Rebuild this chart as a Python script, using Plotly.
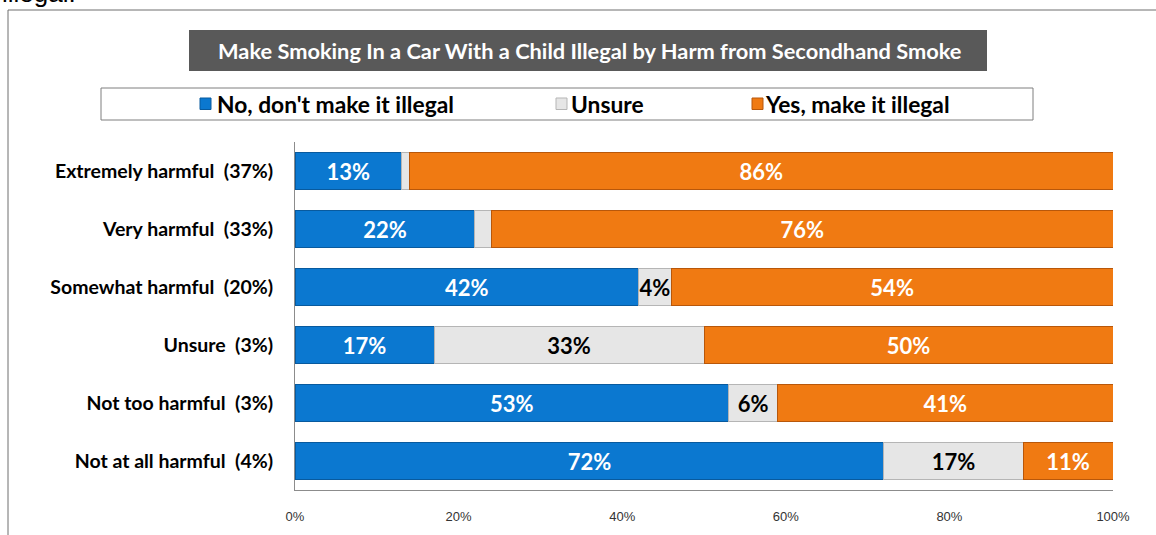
import plotly.graph_objects as go

categories = ["Extremely harmful  (37%)", "Very harmful  (33%)", "Somewhat harmful  (20%)",
              "Unsure  (3%)", "Not too harmful  (3%)", "Not at all harmful  (4%)"]
no_vals = [13, 22, 42, 17, 53, 72]
unsure_vals = [1, 2, 4, 33, 6, 17]
yes_vals = [86, 76, 54, 50, 41, 11]
series_names = ["No, don't make it illegal", "Unsure", "Yes, make it illegal"]
x_ticks = [0, 20, 40, 60, 80, 100]
x_tick_labels = ["0%", "20%", "40%", "60%", "80%", "100%"]
title_text = "Make Smoking In a Car With a Child Illegal by Harm from Secondhand Smoke"

W, H = 1156, 535
L, R, T, B = 295, 1113, 142, 490
pw, ph = R - L, B - T


def px(x):
    return (x - L) / pw


def py(y):
    return (B - y) / ph


FONT = "Lato"
colors = ["#0B78D0", "#E6E6E6", "#F07A12"]
edge = ["#085A9E", "#B5B5B5", "#B8570A"]
text_colors = ["white", "black", "white"]

fig = go.Figure()
for name, vals, c, e, tc in zip(series_names, [no_vals, unsure_vals, yes_vals], colors, edge, text_colors):
    labels = [f"{v}%" if v >= 3 else "" for v in vals]
    fig.add_trace(go.Bar(
        y=categories, x=vals, name=name, orientation="h",
        marker=dict(color=c, line=dict(color=e, width=1)),
        text=labels, textposition="inside", insidetextanchor="middle",
        textangle=0, constraintext="none",
        textfont=dict(family=FONT, size=22, color=tc, weight="bold"),
        showlegend=False, hoverinfo="x+name",
    ))

shapes = []
# outer frame (left and top lines)
shapes.append(dict(type="line", xref="paper", yref="paper", x0=px(8), x1=px(1160), y0=py(10), y1=py(10),
                   line=dict(color="#6F6F6F", width=1)))
shapes.append(dict(type="line", xref="paper", yref="paper", x0=px(8), x1=px(8), y0=py(10), y1=py(540),
                   line=dict(color="#6F6F6F", width=1)))
# title box
shapes.append(dict(type="rect", xref="paper", yref="paper", x0=px(189), x1=px(987), y0=py(71), y1=py(30),
                   fillcolor="#595959", line=dict(width=0)))
# legend box
shapes.append(dict(type="rect", xref="paper", yref="paper", x0=px(101), x1=px(1033), y0=py(120), y1=py(88),
                   fillcolor="white", line=dict(color="#7F7F7F", width=1)))

annotations = []
annotations.append(dict(xref="paper", yref="paper", x=px(589), y=py(50.5), text=f"<b>{title_text}</b>",
                        showarrow=False, xanchor="center", yanchor="middle",
                        font=dict(family=FONT, size=21.8, color="white")))
annotations.append(dict(xref="paper", yref="paper", x=px(0), y=py(10), text="illegal.",
                        showarrow=False, xanchor="left", yanchor="bottom",
                        font=dict(family="Arial", size=26, color="black")))

leg_sq_x = [200, 556, 752]
leg_txt_x = [215, 569, 763]
for name, sx, tx, c, e in zip(series_names, leg_sq_x, leg_txt_x, colors, edge):
    shapes.append(dict(type="rect", xref="paper", yref="paper", x0=px(sx), x1=px(sx + 11),
                       y0=py(109.5), y1=py(98), fillcolor=c, line=dict(color=e, width=1)))
    annotations.append(dict(xref="paper", yref="paper", x=px(tx), y=py(104), text=f"<b>{name}</b>",
                            showarrow=False, xanchor="left", yanchor="middle",
                            font=dict(family=FONT, size=22.8, color="black")))

fig.update_layout(
    width=W, height=H, barmode="stack", bargap=0.36,
    margin=dict(l=L, r=W - R, t=T, b=H - B, pad=0),
    plot_bgcolor="white", paper_bgcolor="white",
    shapes=shapes, annotations=annotations,
    xaxis=dict(range=[0, 100], tickvals=x_ticks, ticktext=x_tick_labels, showgrid=False,
               zeroline=False, showline=True, linecolor="#8C8C8C", linewidth=1, ticks="",
               tickfont=dict(family="Arial", size=13, color="#333333"), ticklabelstandoff=14),
    yaxis=dict(categoryorder="array", categoryarray=categories, autorange="reversed",
               showgrid=False, zeroline=False, showline=True, linecolor="#8C8C8C", linewidth=1,
               ticks="", tickfont=dict(family=FONT, size=19.5, color="black", weight="bold"),
               ticklabelstandoff=17),
    font=dict(family=FONT),
)

fig.write_html("out.html", config={"displayModeBar": False},
               post_script="document.body.style.margin='0';")
